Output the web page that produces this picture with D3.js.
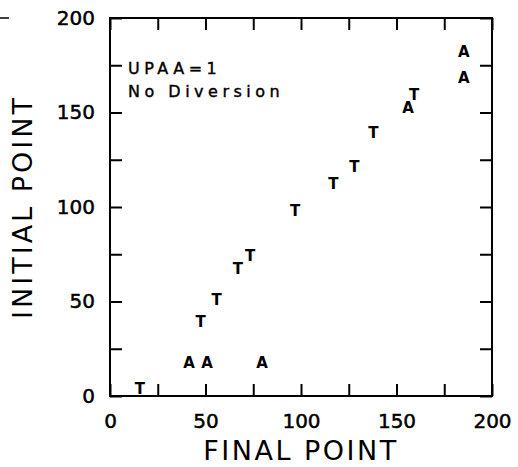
<!DOCTYPE html>
<html lang="en">
<head>
    <meta charset="UTF-8">
    <title>Initial vs Final Point</title>
    <script src="https://d3js.org/d3.v7.min.js"></script>
    <style>
        body { margin: 0; background: #fff; font-family: "DejaVu Sans", sans-serif; }
        .tick text { font-family: "DejaVu Sans", sans-serif; }
    </style>
</head>
<body>
    <div id="chart"></div>
    <script>
        // points: x = final point, y = initial point, letter = mark
        const finalPts   = [15.7, 41.4, 50.8, 79.6, 47.5, 55.8, 67, 73.3, 96.9, 116.9, 127.9, 137.9, 156.1, 159.2, 185.3, 185.3];
        const initialPts = [3.5, 17.5, 17.5, 17.5, 39.2, 50.8, 67, 74, 98, 112.2, 121.3, 139, 152.2, 159.3, 182.2, 168.1];
        const marks      = ["T", "A", "A", "A", "T", "T", "T", "T", "T", "T", "T", "T", "A", "T", "A", "A"];
        const tickVals   = [0, 25, 50, 75, 100, 125, 150, 175, 200];
        const noteLines  = ["UPAA=1", "No Diversion"];

        const W = 518, H = 467;
        const margin = { top: 18, right: 26, bottom: 71, left: 110 };
        const width = W - margin.left - margin.right;
        const height = H - margin.top - margin.bottom;

        const svg = d3.select("#chart").append("svg")
            .attr("width", W)
            .attr("height", H);

        const g = svg.append("g")
            .attr("transform", `translate(${margin.left},${margin.top})`);

        const x = d3.scaleLinear().domain([0, 200]).range([0, width]);
        const y = d3.scaleLinear().domain([0, 200]).range([height, 0]);

        const fmt = d => d % 50 === 0 ? d : "";
        const tk = 12;

        const styleAxis = sel => {
            sel.select(".domain").remove();
            sel.selectAll(".tick line").attr("stroke", "#000").attr("stroke-width", 2);
            sel.selectAll(".tick text")
                .attr("fill", "#000")
                .attr("stroke", "#000")
                .attr("stroke-width", 0.5)
                .style("font-size", "20px");
        };

        g.append("g")
            .attr("transform", `translate(0,${height})`)
            .call(d3.axisBottom(x).tickValues(tickVals).tickFormat(fmt).tickSizeInner(-tk).tickSizeOuter(0).tickPadding(18))
            .call(styleAxis);

        g.append("g")
            .call(d3.axisLeft(y).tickValues(tickVals).tickFormat(fmt).tickSizeInner(-tk).tickSizeOuter(0).tickPadding(15))
            .call(styleAxis);

        g.append("g")
            .call(d3.axisTop(x).tickValues(tickVals).tickFormat("").tickSizeInner(-tk).tickSizeOuter(0))
            .call(styleAxis);

        g.append("g")
            .attr("transform", `translate(${width},0)`)
            .call(d3.axisRight(y).tickValues(tickVals).tickFormat("").tickSizeInner(-tk).tickSizeOuter(0))
            .call(styleAxis);

        // frame
        g.append("rect")
            .attr("width", width)
            .attr("height", height)
            .attr("fill", "none")
            .attr("stroke", "#000")
            .attr("stroke-width", 2);

        // small stray stroke at top left of the scan
        svg.append("line")
            .attr("x1", 0).attr("x2", 9)
            .attr("y1", margin.top).attr("y2", margin.top)
            .attr("stroke", "#000").attr("stroke-width", 1.5);

        // letters
        g.selectAll(".mark")
            .data(finalPts.map((d, i) => ({ fx: d, iy: initialPts[i], m: marks[i] })))
            .join("text")
            .attr("class", "mark")
            .attr("x", d => x(d.fx))
            .attr("y", d => y(d.iy))
            .attr("text-anchor", "middle")
            .attr("dominant-baseline", "central")
            .style("font-size", "15px")
            .style("font-weight", "bold")
            .text(d => d.m);

        // note
        g.append("g").selectAll("text")
            .data(noteLines)
            .join("text")
            .attr("x", 18)
            .attr("y", (d, i) => 56 + i * 23)
            .attr("stroke", "#000")
            .attr("stroke-width", 0.4)
            .style("font-size", "16px")
            .style("letter-spacing", "4.5px")
            .text(d => d);

        // axis titles
        svg.append("text")
            .attr("x", margin.left + width / 2)
            .attr("y", 460)
            .attr("text-anchor", "middle")
            .style("font-size", "27px")
            .style("letter-spacing", "2.5px")
            .text("FINAL POINT");

        svg.append("text")
            .attr("transform", `translate(32,${margin.top + height / 2}) rotate(-90)`)
            .attr("text-anchor", "middle")
            .style("font-size", "27px")
            .style("letter-spacing", "3px")
            .text("INITIAL POINT");
    </script>
</body>
</html>
